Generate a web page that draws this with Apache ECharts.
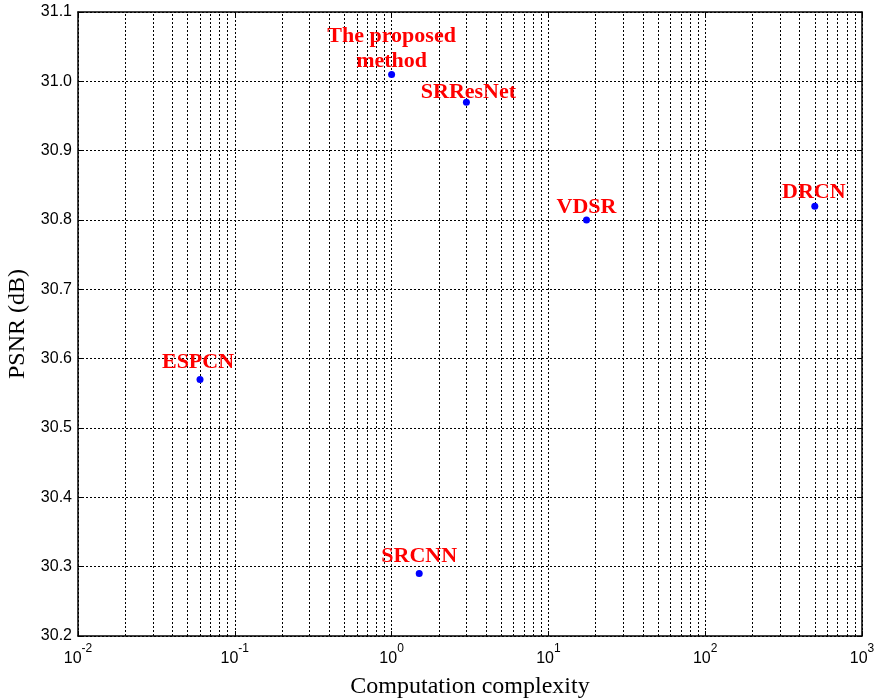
<!DOCTYPE html>
<html>
<head>
<meta charset="utf-8">
<script src="https://cdn.jsdelivr.net/npm/echarts@6/dist/echarts.min.js"></script>
<style>
html,body{margin:0;padding:0;background:#fff;}
#c{width:877px;height:699px;}
</style>
</head>
<body>
<div id="c"></div>
<script>
// ---- data ----
const methods = ['The proposed\nmethod', 'SRResNet', 'VDSR', 'DRCN', 'ESPCN', 'SRCNN'];
const complexity = [1.0, 3.0, 17.5, 500, 0.06, 1.5];
const psnr = [31.01, 30.97, 30.80, 30.82, 30.57, 30.29];
const yTicks = [30.2, 30.3, 30.4, 30.5, 30.6, 30.7, 30.8, 30.9, 31.0, 31.1];
const xDecades = [0.01, 0.1, 1, 10, 100, 1000];

// ---- style (label offsets relative to points) ----
const labelOffsets = [[0, -26], [2, -10], [0, -13], [-1, -14], [-2, -17], [0, -17]];

// minor log grid positions (2..9 x each decade)
const minorTicks = [];
for (let d = 0; d < xDecades.length - 1; d++) {
  for (let k = 2; k <= 9; k++) minorTicks.push(xDecades[d] * k);
}

const dotted = { color: '#000', width: 1, type: [2, 2] };

const chart = echarts.init(document.getElementById('c'), null, { renderer: 'canvas' });

const seriesData = methods.map((m, i) => ({
  name: m,
  value: [complexity[i], psnr[i]],
  label: { offset: labelOffsets[i] }
}));

chart.setOption({
  backgroundColor: '#fff',
  animation: false,
  grid: { left: 78, right: 15, top: 12, bottom: 63, containLabel: false, outerBoundsMode: 'none' },
  xAxis: [{
    type: 'log',
    logBase: 10,
    min: xDecades[0],
    max: xDecades[xDecades.length - 1],
    name: 'Computation complexity',
    nameLocation: 'middle',
    nameGap: 39,
    nameTextStyle: { fontFamily: 'Liberation Serif', fontSize: 24, color: '#000' },
    axisLine: { lineStyle: { color: '#000', width: 1.5 } },
    axisTick: { inside: true, length: 5, lineStyle: { color: '#000' } },
    axisLabel: {
      margin: 7,
      color: '#000',
      formatter: function (v) {
        const e = Math.round(Math.log10(v));
        return '{b|10}{s|' + e + '}';
      },
      rich: {
        b: { fontFamily: 'Liberation Sans', fontSize: 16, color: '#000', lineHeight: 24, verticalAlign: 'bottom' },
        s: { fontFamily: 'Liberation Sans', fontSize: 12, color: '#000', lineHeight: 24, verticalAlign: 'top' }
      }
    },
    splitLine: { show: true, lineStyle: dotted }
  }, {
    type: 'log',
    logBase: 10,
    position: 'top',
    min: xDecades[0],
    max: xDecades[xDecades.length - 1],
    axisLine: { lineStyle: { color: '#000', width: 1.5 } },
    axisTick: { inside: true, length: 5, lineStyle: { color: '#000' } },
    axisLabel: { show: false },
    splitLine: { show: false }
  }],
  yAxis: [{
    type: 'value',
    min: yTicks[0],
    max: yTicks[yTicks.length - 1],
    interval: 0.1,
    name: 'PSNR (dB)',
    nameLocation: 'middle',
    nameGap: 43,
    nameTextStyle: { fontFamily: 'Liberation Serif', fontSize: 24, color: '#000' },
    axisLine: { show: true, lineStyle: { color: '#000', width: 1.5 } },
    axisTick: { show: true, inside: true, length: 5, lineStyle: { color: '#000' } },
    axisLabel: {
      margin: 6,
      fontFamily: 'Liberation Sans',
      fontSize: 16,
      color: '#000',
      formatter: v => v.toFixed(1)
    },
    splitLine: { show: true, lineStyle: dotted }
  }, {
    type: 'value',
    position: 'right',
    min: yTicks[0],
    max: yTicks[yTicks.length - 1],
    interval: 0.1,
    axisLine: { show: true, lineStyle: { color: '#000', width: 1.5 } },
    axisTick: { show: true, inside: true, length: 5, lineStyle: { color: '#000' } },
    axisLabel: { show: false },
    splitLine: { show: false }
  }],
  series: [{
    type: 'scatter',
    xAxisIndex: 0,
    yAxisIndex: 0,
    symbol: 'circle',
    symbolSize: 7,
    itemStyle: { color: '#0000ff', opacity: 1 },
    label: {
      show: true,
      position: 'inside',
      formatter: p => p.name,
      fontFamily: 'Liberation Serif',
      fontWeight: 'bold',
      fontSize: 22,
      lineHeight: 25,
      color: '#ff0000',
      opacity: 1,
      align: 'center',
      verticalAlign: 'middle'
    },
    data: seriesData,
    markLine: {
      silent: true,
      symbol: ['none', 'none'],
      label: { show: false },
      lineStyle: dotted,
      data: minorTicks.map(v => ({ xAxis: v }))
    },
    z: 5
  }]
});
</script>
</body>
</html>
